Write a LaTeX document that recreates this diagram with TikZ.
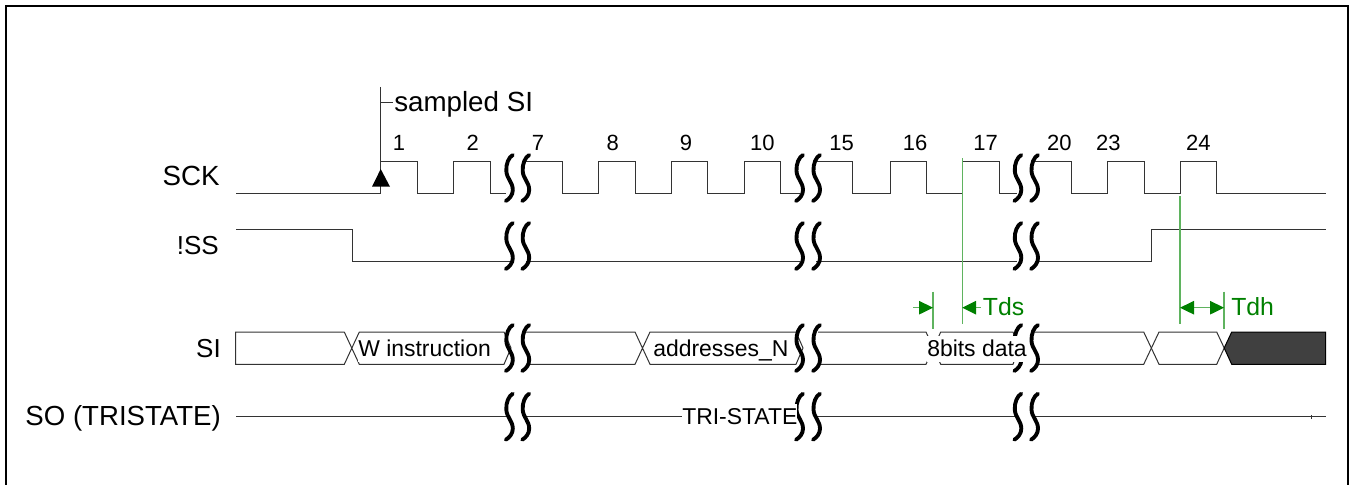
\documentclass[tikz,border=0pt]{standalone}
\usepackage{fontspec}
\setmainfont{Liberation Sans}
\definecolor{sigc}{HTML}{333333}
\definecolor{tgreen}{HTML}{008000}
\definecolor{tline}{HTML}{5FB35F}
\definecolor{darkfill}{HTML}{404040}
\newcommand\timebreak[2]{\draw[brkline,shift={(#1,#2)}] (3.5,-23) .. controls (-0.5,-21) and (-3.5,-14) .. (-3,-7) .. controls (-2.5,1) and (3.5,4) .. (3.5,12) .. controls (3.5,17) and (0,21) .. (-3.5,23);}
\newcommand\fsz[1]{\fontsize{#1}{#1}\selectfont}
\tikzset{
  sig/.style={draw=sigc,line width=.75pt,line join=miter},
  frameline/.style={draw=black,line width=1.6pt},
  brkline/.style={draw=black,line width=2.9pt,line cap=round},
  glineb/.style={draw=tline,line width=.8pt},
  rowlabel/.style={anchor=base east,inner sep=0pt,font=\fsz{19.5pt}},
  numlabel/.style={anchor=base,inner sep=0pt,font=\fsz{16.5pt}},
  datalabel/.style={anchor=base west,inner sep=0pt,fill=white,text height=15pt,text depth=4.2pt,font=\fsz{17.2pt}},
  greenlabel/.style={anchor=base west,inner sep=0pt,text=tgreen,font=\fsz{18.6pt}},
  ghead/.style={fill=tgreen,draw=none}
}
\begin{document}
\begin{tikzpicture}[x=.75pt,y=-.75pt]
\useasboundingbox (0,0) rectangle (1352,485);
% frame
\draw[frameline] (6,485) -- (6,6) -- (1348,6) -- (1348,485);
% SCK
\draw[sig] (236,193.7) -- (380.7,193.7) -- (380.7,161.5) -- (417.3,161.5) -- (417.3,193.7) -- (453.7,193.7) -- (453.7,161.5) -- (490,161.5) -- (490,193.7) -- (506,193.7);
\draw[sig] (526,161.5) -- (562.7,161.5) -- (562.7,193.7) -- (598.7,193.7) -- (598.7,161.5) -- (635,161.5) -- (635,193.7) -- (671.7,193.7) -- (671.7,161.5) -- (707.7,161.5) -- (707.7,193.7) -- (744,193.7) -- (744,161.5) -- (780.3,161.5) -- (780.3,193.7) -- (800,193.7);
\draw[sig] (816,161.5) -- (852.7,161.5) -- (852.7,193.7) -- (890,193.7) -- (890,161.5) -- (926.3,161.5) -- (926.3,193.7) -- (962.3,193.7) -- (962.3,161.5) -- (999.3,161.5) -- (999.3,193.7) -- (1017,193.7);
\draw[sig] (1035,161.5) -- (1071,161.5) -- (1071,193.7) -- (1107.7,193.7) -- (1107.7,161.5) -- (1144.3,161.5) -- (1144.3,193.7) -- (1180,193.7) -- (1180,161.5) -- (1216.7,161.5) -- (1216.7,193.7) -- (1325.7,193.7);
% sample marker
\draw[sig] (380.7,87) -- (380.7,161.5);
\draw[sig] (380.7,102.7) -- (393,102.7);
\fill[black] (380.7,169) -- (390,186.7) -- (372,186.7) -- cycle;
% !SS
\draw[sig] (236,229.7) -- (352.3,229.7) -- (352.3,261.7) -- (510,261.7);
\draw[sig] (526,261.7) -- (800,261.7);
\draw[sig] (816,261.7) -- (1017,261.7);
\draw[sig] (1035,261.7) -- (1151.3,261.7) -- (1151.3,229.7) -- (1325.7,229.7);
% SI
\draw[sig] (344.3,332) -- (235.5,332) -- (235.5,364.3) -- (344.3,364.3) -- (359.3,332) -- (504,332) -- (511,348) -- (504,364.3) -- (359.3,364.3) -- (344.3,332);
\draw[sig] (526,332) -- (635,332) -- (650,364.3) -- (796,364.3) -- (803,348) -- (796,332) -- (650,332) -- (635,364.3) -- (526,364.3);
\draw[sig] (818,332) -- (926,332) -- (940.7,364.3) -- (1013,364.3) -- (1019,348) -- (1013,332) -- (940.7,332) -- (926,364.3) -- (818,364.3);
\draw[sig] (1035,332) -- (1143.7,332) -- (1159,364.3) -- (1216.7,364.3) -- (1224.2,348);
\draw[sig] (1035,364.3) -- (1143.7,364.3) -- (1159,332) -- (1216.7,332) -- (1224.2,348);
\filldraw[draw=black,line width=.75pt,fill=darkfill] (1224.2,348) -- (1231.7,332) -- (1325.7,332) -- (1325.7,364.3) -- (1231.7,364.3) -- cycle;
% SO
\draw[sig] (236,416.7) -- (510,416.7);
\draw[sig] (526,416.7) -- (682,416.7);
\draw[sig] (816,416.7) -- (1017,416.7);
\draw[sig] (1035,416.7) -- (1325.7,416.7);
\draw[sig] (1311,415) -- (1311,418.5);
% green timing lines
\draw[glineb] (962.3,158) -- (962.3,324);
\draw[glineb] (1180,196) -- (1180,324);
\draw[glineb] (933,291.7) -- (933,329);
\draw[glineb] (1224,291.7) -- (1224,329);
\draw[glineb] (913,307.7) -- (920,307.7);
\fill[ghead] (933,307.7) -- (919,300.8) -- (919,314.6) -- cycle;
\draw[glineb] (975,307.7) -- (981,307.7);
\fill[ghead] (962.3,307.7) -- (976,300.8) -- (976,314.6) -- cycle;
\draw[glineb] (1193,307.7) -- (1211,307.7);
\fill[ghead] (1180,307.7) -- (1194,300.8) -- (1194,314.6) -- cycle;
\fill[ghead] (1224,307.7) -- (1210,300.8) -- (1210,314.6) -- cycle;
% breaks
\foreach \by in {178,246,348,416.7} {
  \foreach \bx in {509.3,525.7,799.5,816.5,1017.8,1034.5} {
    \timebreak{\bx}{\by}
  }
}
% labels
\node[rowlabel,font=\fsz{20.8pt}] (sck) at (220,185) {SCK};
\node[rowlabel] (ss) at (219,254) {!SS};
\node[rowlabel] (si) at (221,357) {SI};
\node[rowlabel,font=\fsz{20.7pt}] (so) at (221,425) {SO (TRISTATE)};
\node[anchor=base west,inner sep=0pt,font=\fsz{20.8pt}] (samp) at (394,111) {sampled SI};
\node[numlabel] (n1) at (399,150.7) {1};
\node[numlabel] (n2) at (472.7,150.7) {2};
\node[numlabel] (n7) at (538,150.7) {7};
\node[numlabel] (n8) at (612.7,150.7) {8};
\node[numlabel] (n9) at (686,150.7) {9};
\node[numlabel] (n10) at (762.3,150.7) {10};
\node[numlabel] (n15) at (841.7,150.7) {15};
\node[numlabel] (n16) at (915,150.7) {16};
\node[numlabel] (n17) at (985.7,150.7) {17};
\node[numlabel] (n20) at (1059.3,150.7) {20};
\node[numlabel] (n23) at (1108.3,150) {23};
\node[numlabel] (n24) at (1198.3,150.7) {24};
\node[datalabel] (wi) at (358,356) {W instruction};
\node[datalabel] (addr) at (653,356) {addresses\_N};
\node[datalabel] (tri) at (682,424.3) {TRI-STATE};
\node[datalabel] (bits) at (927,356) {8bits data};
\node[greenlabel] (tds) at (982.7,315) {Tds};
\node[greenlabel] (tdh) at (1231,315) {Tdh};
\end{tikzpicture}
\end{document}
